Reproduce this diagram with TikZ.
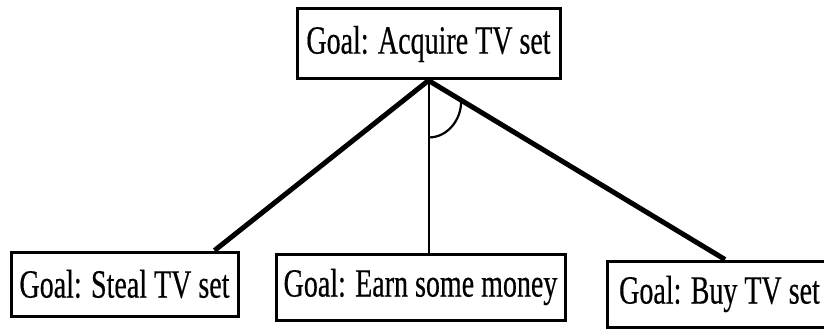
\documentclass[tikz,border=0pt]{standalone}
\usepackage{fontspec}
\setmainfont{Liberation Serif}[FakeStretch=0.70, FakeBold=0.4]
\usetikzlibrary{calc}
\begin{document}
\begin{tikzpicture}[x=1pt, y=-1pt,
        goal/.style={draw, black, line width=3pt, inner sep=0pt,
            font=\fontsize{40}{44}\selectfont},
        link/.style={black, line width=5pt}]
    \useasboundingbox (0,0) rectangle (824,331);
    % the goal and its three sub-goals
    \node[goal, minimum width=263pt, minimum height=70pt] (top) at (428.5,44) {Goal: Acquire TV set};
    \node[goal, minimum width=227pt, minimum height=64pt] (steal) at (124.5,284) {Goal: Steal TV set};
    \node[goal, minimum width=289pt, minimum height=66pt] (earn) at (420.5,287) {Goal: Earn some money};
    \node[goal, minimum width=225pt, minimum height=66pt] (buy) at (719.5,294) {Goal: Buy TV set};
    \coordinate (stealend) at ([xshift=90pt]steal.north);
    \coordinate (buyend) at ([xshift=5.5pt]buy.north);
    \draw[link] (top.south) -- (stealend);
    \draw[link] (top.south) -- (buyend);
    \draw[black, line width=2pt] (top.south) -- (top.south |- earn.north);
    % AND arc between earn and buy
    \coordinate (a) at ($(top.south)!57pt!(top.south |- earn.north)$);
    \coordinate (b) at ($(top.south)!38pt!(buyend)$);
    \draw[black, line width=2.2pt] (a) .. controls +(20,0) and +(1,18) .. (b);
\end{tikzpicture}
\end{document}
